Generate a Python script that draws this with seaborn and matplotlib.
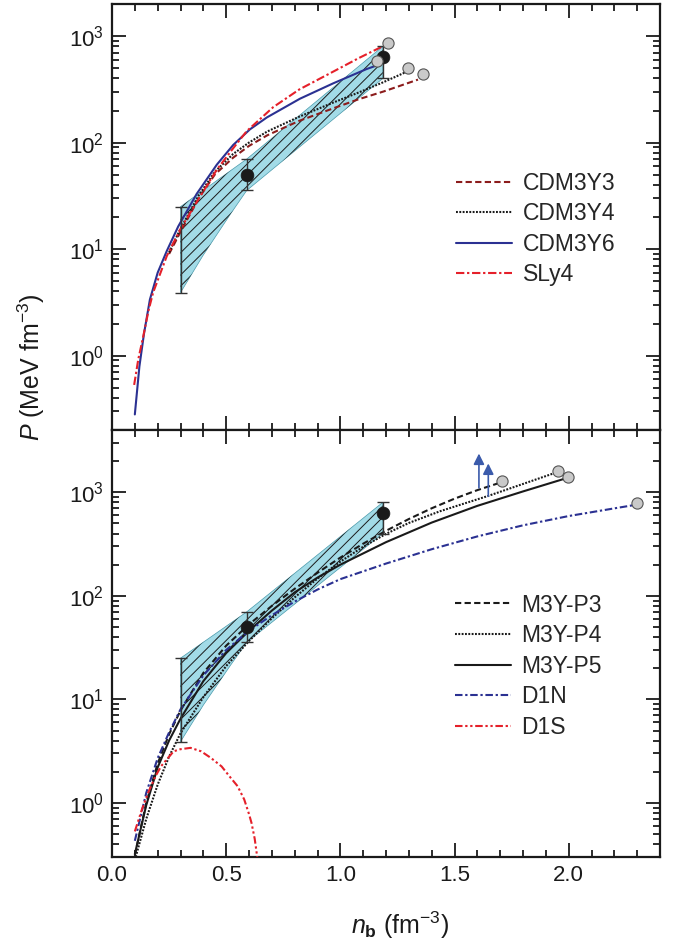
import numpy as np
import pandas as pd
import matplotlib
matplotlib.use("Agg")
import matplotlib.pyplot as plt
from matplotlib.ticker import MultipleLocator, LogLocator
import seaborn as sns

# ---------------- data ----------------
# top panel
cdm3y3_x = [0.25, 0.30, 0.38, 0.45, 0.53, 0.60, 0.68, 0.82, 0.97, 1.08, 1.19, 1.34]
cdm3y3_y = [9.0, 14.5, 30, 50, 72, 93, 117, 160, 210, 255, 302, 390]
cdm3y4_x = [0.25, 0.30, 0.38, 0.45, 0.53, 0.60, 0.68, 0.82, 0.97, 1.08, 1.19, 1.29]
cdm3y4_y = [9.3, 15.5, 32, 53, 78, 100, 127, 175, 238, 295, 370, 462]
cdm3y6_x = [0.10, 0.12, 0.14, 0.166, 0.20, 0.24, 0.29, 0.371, 0.459, 0.531, 0.604, 0.678, 0.823, 0.969, 1.115, 1.16]
cdm3y6_y = [0.28, 0.79, 1.6, 3.36, 6.0, 9.6, 16.3, 33, 62, 95, 133, 172, 258, 360, 490, 530]
sly4_x = [0.097, 0.115, 0.137, 0.16, 0.18, 0.24, 0.298, 0.385, 0.46, 0.53, 0.59, 0.706, 0.82, 0.97, 1.08, 1.19]
sly4_y = [0.53, 0.92, 1.52, 2.65, 3.9, 8.6, 15.2, 31, 56, 88, 128, 215, 315, 465, 620, 810]
circ_top_x = [1.159, 1.207, 1.298, 1.36]
circ_top_y = [580, 864, 503, 444]

# bottom panel
p3_x = [0.10, 0.15, 0.20, 0.25, 0.30, 0.40, 0.50, 0.60, 0.70, 0.80, 0.90, 1.00, 1.10, 1.20, 1.30, 1.40, 1.50, 1.60, 1.70]
p3_y = [0.31, 1.0, 2.4, 4.6, 7.8, 18, 33, 53, 80, 117, 167, 234, 319, 425, 552, 701, 868, 1050, 1240]
p4_x = [0.10, 0.15, 0.20, 0.25, 0.30, 0.40, 0.50, 0.60, 0.70, 0.80, 0.90, 1.00, 1.10, 1.20, 1.30, 1.437, 1.55, 1.65, 1.80, 1.94]
p4_y = [0.28, 0.70, 1.5, 2.8, 4.7, 10.5, 21, 36.6, 60.7, 96.6, 147, 214, 298, 397, 506, 657, 789, 927, 1205, 1540]
p5_x = [0.10, 0.15, 0.20, 0.25, 0.30, 0.40, 0.50, 0.60, 0.70, 0.80, 0.90, 1.00, 1.20, 1.40, 1.60, 1.80, 1.99]
p5_y = [0.32, 0.95, 2.2, 4.0, 6.5, 15, 28, 46, 72, 108, 150, 200, 330, 510, 740, 1020, 1370]
d1n_x = [0.10, 0.15, 0.20, 0.25, 0.30, 0.40, 0.50, 0.60, 0.70, 0.80, 0.90, 1.00, 1.20, 1.40, 1.60, 1.80, 2.00, 2.20, 2.29]
d1n_y = [0.43, 1.25, 2.7, 4.8, 8.0, 17, 30, 46, 65, 88, 115, 145, 205, 282, 375, 480, 590, 700, 755]
d1s_x = [0.10, 0.13, 0.158, 0.19, 0.215, 0.27, 0.30, 0.344, 0.39, 0.433, 0.48, 0.514, 0.55, 0.579, 0.60, 0.611, 0.625, 0.636, 0.645]
d1s_y = [0.53, 0.85, 1.25, 1.8, 2.26, 3.15, 3.3, 3.4, 3.15, 2.72, 2.25, 1.81, 1.45, 1.08, 0.78, 0.64, 0.45, 0.30, 0.22]
circ_bot_x = [1.709, 1.955, 1.996, 2.299]
circ_bot_y = [1280, 1600, 1414, 780]
arrow_x = [1.607, 1.648]
arrow_from = [1105, 916]
arrow_to = [2370, 1900]

# constraint band + data points (both panels)
band_x = [0.30, 0.59, 1.186, 1.186, 0.59, 0.52, 0.40, 0.30]
band_y = [25, 70, 800, 400, 35.5, 21.5, 8.8, 3.9]
err_x = [0.30, 0.59, 1.186]
err_lo = [3.9, 35.5, 400]
err_hi = [25, 70, 800]
pts_x = [0.59, 1.186]
pts_y = [50, 635]

x_ticks = [0.0, 0.5, 1.0, 1.5, 2.0]

# ---------------- style ----------------
sns.set_style("ticks")
plt.rcParams["font.family"] = ["Liberation Sans", "DejaVu Sans"]
plt.rcParams["mathtext.fontset"] = "custom"
plt.rcParams["mathtext.rm"] = "Liberation Sans"
plt.rcParams["mathtext.it"] = "Liberation Sans:italic"
plt.rcParams["mathtext.bf"] = "Liberation Sans:bold"
plt.rcParams["hatch.linewidth"] = 0.7
plt.rcParams["hatch.color"] = "#1a1a1a"

BAND = "#a2dbe7"
LW = 1.5

fig = plt.figure(figsize=(6.81, 9.48), dpi=100)
ax1 = fig.add_axes([112 / 681, 1 - 430 / 948, 548 / 681, 426 / 948])
ax2 = fig.add_axes([112 / 681, 1 - 857 / 948, 548 / 681, 427 / 948])

for ax in (ax1, ax2):
    ax.set_yscale("log")


def line(ax, x, y, color, ls, label):
    sns.lineplot(x=x, y=y, ax=ax, color=color, linestyle=ls, lw=LW,
                 estimator=None, sort=False, legend=False, zorder=3)
    ln = ax.lines[-1]
    ln.set_label(label)
    return ln


def common(ax):
    ax.fill(band_x, band_y, facecolor=BAND, edgecolor="#4a9aab", lw=0.5, zorder=1)
    ax.fill(band_x, band_y, facecolor="none", edgecolor="#1a1a1a", lw=0, hatch="///", zorder=1.5)
    ctr = [np.sqrt(a * b) for a, b in zip(err_lo, err_hi)]
    yerr = [[c - a for c, a in zip(ctr, err_lo)], [b - c for c, b in zip(ctr, err_hi)]]
    ax.errorbar(err_x, ctr, yerr=yerr, fmt="none", ecolor="#333333",
                elinewidth=1.0, capsize=4.5, capthick=1.0, zorder=4)
    sns.scatterplot(x=pts_x, y=pts_y, ax=ax, color="#1a1a1a", s=85,
                    edgecolor="#1a1a1a", linewidth=0.5, zorder=5, legend=False)


# ---------------- top panel ----------------
common(ax1)
h1 = [
    line(ax1, cdm3y3_x, cdm3y3_y, "#8c1c1c", (0, (3.0, 1.6)), "CDM3Y3"),
    line(ax1, cdm3y4_x, cdm3y4_y, "#1a1a1a", (0, (0.9, 0.7)), "CDM3Y4"),
    line(ax1, cdm3y6_x, cdm3y6_y, "#2b3192", "-", "CDM3Y6"),
    line(ax1, sly4_x, sly4_y, "#e5202a", (0, (4.0, 1.3, 1.1, 1.3)), "SLy4"),
]
sns.scatterplot(x=circ_top_x, y=circ_top_y, ax=ax1, color="#c9c9c9", s=65,
                edgecolor="#555555", linewidth=0.8, zorder=6, legend=False)
ax1.set_ylim(0.2, 2000)

# ---------------- bottom panel ----------------
common(ax2)
h2 = [
    line(ax2, p3_x, p3_y, "#1a1a1a", (0, (3.0, 1.6)), "M3Y-P3"),
    line(ax2, p4_x, p4_y, "#1a1a1a", (0, (0.9, 0.7)), "M3Y-P4"),
    line(ax2, p5_x, p5_y, "#1a1a1a", "-", "M3Y-P5"),
    line(ax2, d1n_x, d1n_y, "#2b3192", (0, (3.6, 1.3, 1.1, 1.3)), "D1N"),
    line(ax2, d1s_x, d1s_y, "#e5202a", (0, (3.6, 1.3, 1.1, 1.3, 1.1, 1.3)), "D1S"),
]
sns.scatterplot(x=circ_bot_x, y=circ_bot_y, ax=ax2, color="#c9c9c9", s=65,
                edgecolor="#555555", linewidth=0.8, zorder=6, legend=False)
for xa, y0, y1 in zip(arrow_x, arrow_from, arrow_to):
    ax2.annotate("", xy=(xa, y1), xytext=(xa, y0),
                 arrowprops=dict(arrowstyle="-|>", color="#3b5bab", lw=1.2,
                                 mutation_scale=16, shrinkA=0, shrinkB=0), zorder=7)
ax2.set_ylim(0.3, 4000)

# ---------------- axes formatting ----------------
for ax in (ax1, ax2):
    ax.set_xlim(0, 2.4)
    ax.xaxis.set_major_locator(MultipleLocator(0.5))
    ax.xaxis.set_minor_locator(MultipleLocator(0.1))
    ax.set_xticks(x_ticks)
    ax.set_xticklabels([f"{v:.1f}" for v in x_ticks])
    ax.yaxis.set_major_locator(LogLocator(base=10, numticks=10))
    ax.yaxis.set_minor_locator(LogLocator(base=10, subs=np.arange(2, 10), numticks=10))
    ax.tick_params(which="both", direction="in", top=True, right=True,
                   width=1.3, labelsize=16, colors="#1a1a1a")
    ax.tick_params(which="major", length=10, pad=6)
    ax.tick_params(which="minor", length=5)
    for sp in ax.spines.values():
        sp.set_linewidth(1.6)
        sp.set_color("#1a1a1a")
        sp.set_visible(True)
    ax.set_xlabel("")
    ax.set_ylabel("")

ax1.tick_params(labelbottom=False)

leg_kw = dict(frameon=False, fontsize=16.5, handlelength=2.45, handletextpad=0.45,
              labelspacing=0.33, borderpad=0, borderaxespad=0, loc="center left")
ax1.legend(handles=h1, bbox_to_anchor=(0.628, 0.472), **leg_kw)
ax2.legend(handles=h2, bbox_to_anchor=(0.626, 0.447), **leg_kw)

fig.text(31 / 681, 1 - 367 / 948, r"$P$ (MeV fm$^{-3}$)", rotation=90,
         ha="center", va="center", fontsize=18, color="#1a1a1a")
fig.text(400 / 681, 1 - 925 / 948, r"$n_{\mathbf{b}}$ (fm$^{-3}$)",
         ha="center", va="center", fontsize=18, color="#1a1a1a")

fig.savefig("out.png", dpi=100)
